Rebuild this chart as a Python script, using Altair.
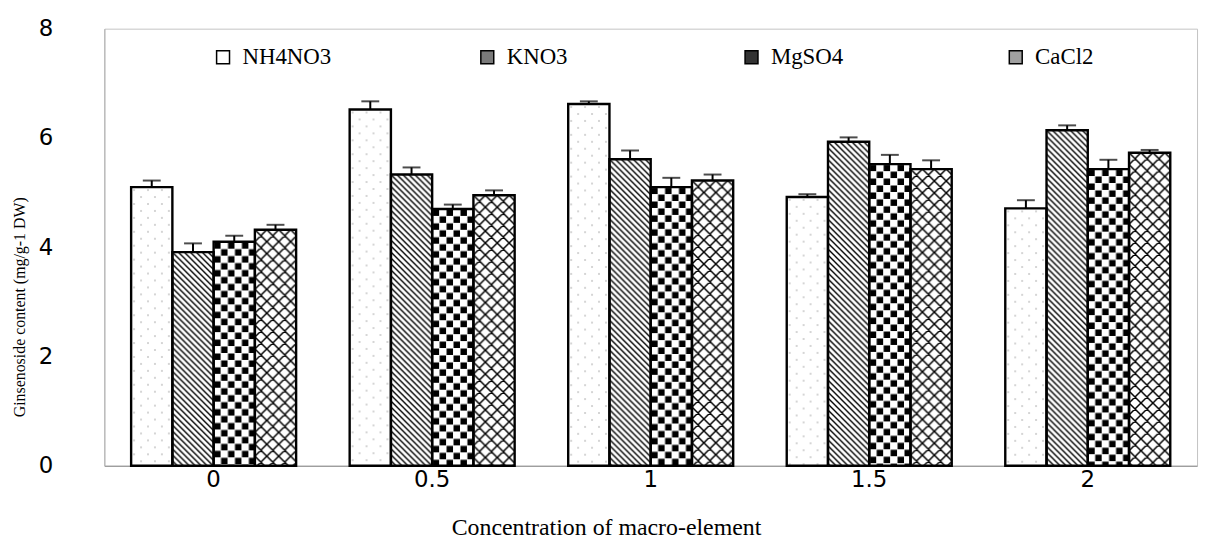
import base64
import altair as alt
import pandas as pd

# ---------------- data ----------------
concentrations = ["0", "0.5", "1", "1.5", "2"]
series = ["NH4NO3", "KNO3", "MgSO4", "CaCl2"]

nh4no3 = [5.10, 6.52, 6.62, 4.92, 4.71]
kno3 = [3.91, 5.33, 5.61, 5.93, 6.14]
mgso4 = [4.10, 4.70, 5.10, 5.52, 5.43]
cacl2 = [4.32, 4.95, 5.22, 5.43, 5.73]

nh4no3_err = [0.12, 0.15, 0.05, 0.05, 0.15]
kno3_err = [0.16, 0.13, 0.16, 0.08, 0.09]
mgso4_err = [0.11, 0.08, 0.17, 0.17, 0.17]
cacl2_err = [0.09, 0.09, 0.11, 0.16, 0.05]

values = {"NH4NO3": nh4no3, "KNO3": kno3, "MgSO4": mgso4, "CaCl2": cacl2}
errors = {"NH4NO3": nh4no3_err, "KNO3": kno3_err, "MgSO4": mgso4_err, "CaCl2": cacl2_err}

rows = []
for s in series:
    for i, c in enumerate(concentrations):
        rows.append({"conc": c, "series": s, "value": values[s][i], "err": errors[s][i]})
df = pd.DataFrame(rows)

# ---------------- fill patterns (style) ----------------
def pattern_uri(body, w, h):
    svg = (
        '<svg xmlns="http://www.w3.org/2000/svg" width="100%" height="100%">'
        f'<defs><pattern id="p" x="0" y="0" width="{w}" height="{h}" patternUnits="userSpaceOnUse">{body}</pattern></defs>'
        '<rect width="100%" height="100%" fill="white"/>'
        '<rect width="100%" height="100%" fill="url(#p)"/></svg>'
    )
    return "data:image/svg+xml;base64," + base64.b64encode(svg.encode()).decode()

pat_dots = pattern_uri(
    '<circle cx="3" cy="3" r="0.7" fill="#8a8a8a"/><circle cx="10" cy="10" r="0.7" fill="#8a8a8a"/>', 14, 14)
pat_diag = pattern_uri(
    '<path d="M0,0 L6,6 M-1,5 L1,7 M5,-1 L7,1" stroke="black" stroke-width="1.4"/>', 6, 6)
pat_check = pattern_uri(
    '<rect x="0.5" y="0.5" width="6.5" height="6.5" fill="black"/><rect x="7.5" y="7.5" width="6.5" height="6.5" fill="black"/>', 14, 14)
pat_cross = pattern_uri(
    '<path d="M0,0 L12,12 M-1,11 L1,13 M11,-1 L13,1 M12,0 L0,12 M-1,1 L1,-1 M11,13 L13,11" stroke="black" stroke-width="1.5"/>', 12, 12)

pattern_expr = (
    "{'NH4NO3': '" + pat_dots + "', 'KNO3': '" + pat_diag + "', 'MgSO4': '" + pat_check
    + "', 'CaCl2': '" + pat_cross + "'}[datum.series]"
)

legend_colors = ["white", "#7a7a7a", "#333333", "#a0a0a0"]

# ---------------- chart ----------------
x_enc = alt.X(
    "conc:N",
    sort=concentrations,
    scale=alt.Scale(paddingInner=0.245, paddingOuter=0.1225),
    title="Concentration of macro-element",
    axis=alt.Axis(
        labelAngle=0,
        labelFont="DejaVu Sans",
        labelFontSize=23,
        labelColor="black",
        labelPadding=3,
        ticks=False,
        domainColor="#8a8a8a",
        titleFont="Liberation Serif",
        titleFontSize=24,
        titleFontWeight="normal",
        titleColor="black",
        titleX=505,
        titlePadding=24,
    ),
)
xoff_enc = alt.XOffset("series:N", sort=series, scale=alt.Scale(domain=series, paddingInner=0, paddingOuter=0))
y_enc = alt.Y(
    "value:Q",
    scale=alt.Scale(domain=[0, 8], nice=False),
    title="Ginsenoside content (mg/g-1 DW)",
    axis=alt.Axis(
        values=[0, 2, 4, 6, 8],
        labelFont="DejaVu Sans",
        labelFontSize=23,
        labelColor="black",
        labelPadding=52,
        ticks=False,
        grid=False,
        domainColor="#b0b0b0",
        titleFont="Liberation Serif",
        titleFontSize=16,
        titleFontWeight="normal",
        titleColor="black",
        titleX=-85,
        titleY=280,
        titleBaseline="middle",
        titleAngle=-90,
    ),
)

base = alt.Chart(df).encode(x=x_enc, xOffset=xoff_enc)

legend_bars = base.mark_bar().encode(
    y=y_enc,
    fill=alt.Fill(
        "series:N",
        sort=series,
        scale=alt.Scale(domain=series, range=legend_colors),
        legend=alt.Legend(
            title=None,
            orient="none",
            legendX=108,
            legendY=17,
            direction="horizontal",
            columns=4,
            gridAlign="all",
            columnPadding=145,
            symbolType="square",
            symbolSize=169,
            symbolStrokeColor="black",
            symbolStrokeWidth=1.5,
            symbolOpacity=1,
            labelFont="Liberation Serif",
            labelFontSize=23,
            labelColor="black",
            labelOffset=8,
        ),
    ),
)

pattern_bars = base.mark_image(aspect=False).transform_calculate(pat=pattern_expr).encode(
    y=alt.Y("value:Q"),
    y2=alt.datum(0),
    url=alt.Url("pat:N"),
)

outline_bars = base.mark_bar(fill="transparent", stroke="black", strokeWidth=2.4).encode(
    y=alt.Y("value:Q"),
)

err_rules = base.mark_rule(color="black", strokeWidth=2).transform_calculate(
    top="datum.value + datum.err"
).encode(y=alt.Y("value:Q"), y2=alt.Y2("top:Q"))

err_caps = base.mark_tick(color="black", orient="horizontal", size=18, thickness=2).transform_calculate(
    top="datum.value + datum.err"
).encode(y=alt.Y("top:Q"))

chart = (
    alt.layer(legend_bars, pattern_bars, outline_bars, err_rules, err_caps)
    .properties(
        width=1100,
        height=440,
        autosize=alt.AutoSizeParams(type="none"),
        padding={"left": 97, "top": 19, "right": 6, "bottom": 80},
        background="white",
    )
    .configure_view(stroke="#c4c4c4", strokeWidth=1)
)

chart.save("out.html", embed_options={"renderer": "svg", "actions": False})
